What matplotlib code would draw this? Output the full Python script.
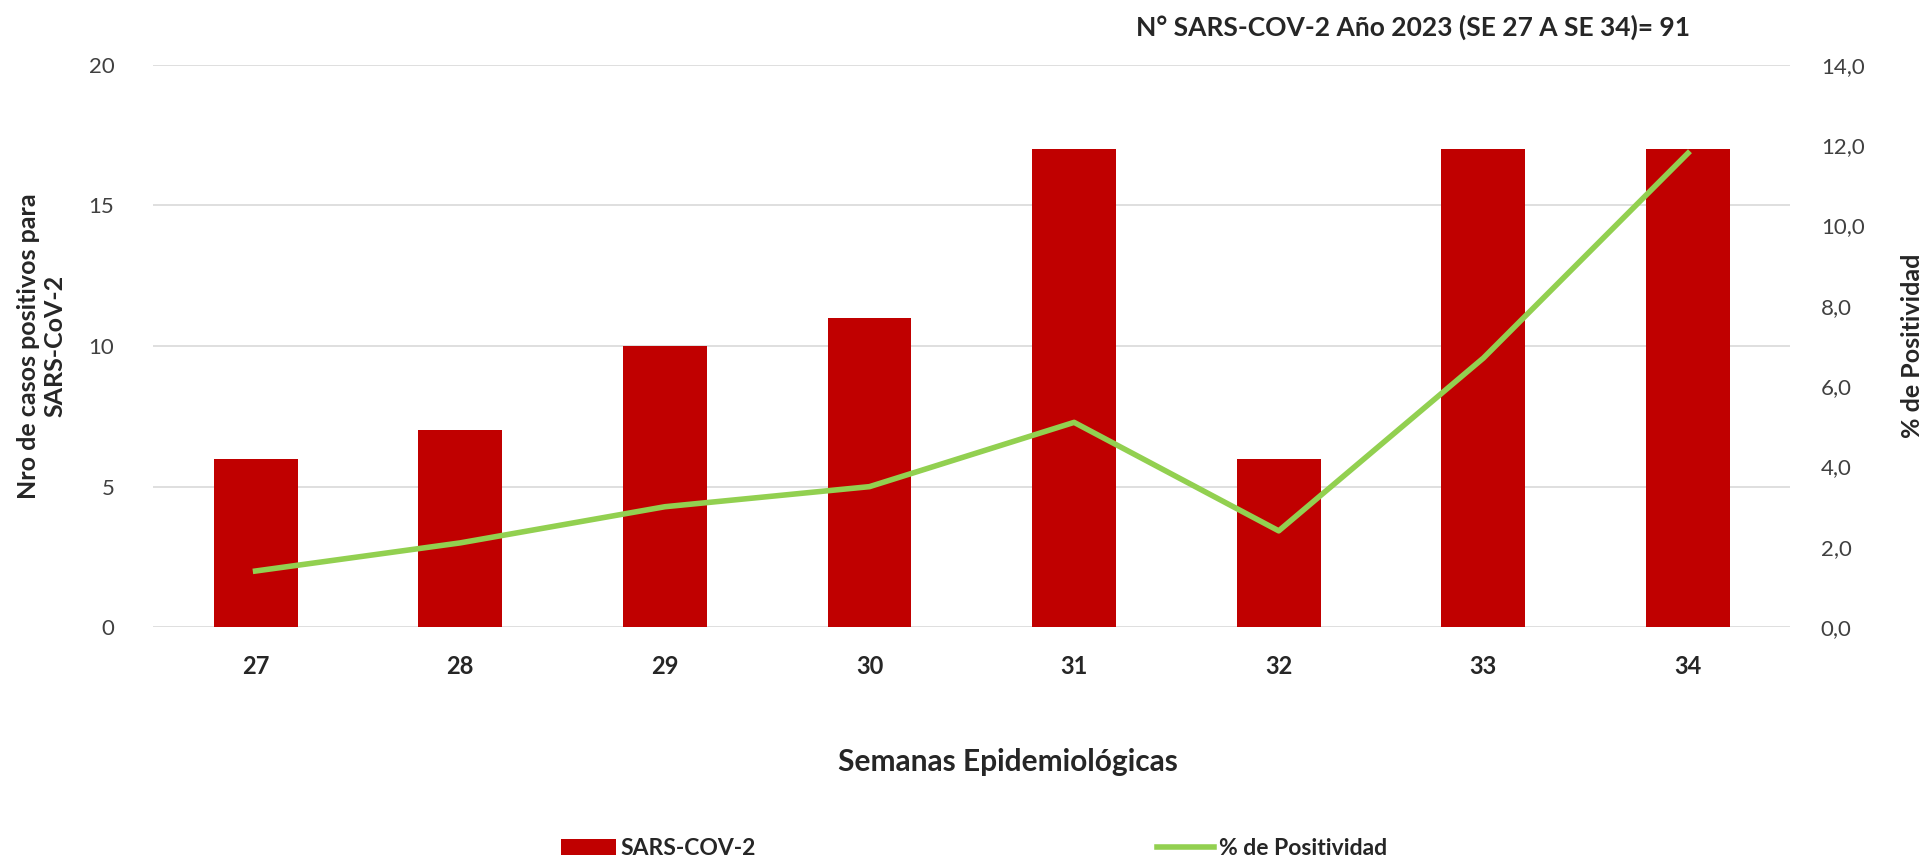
import numpy as np
import matplotlib
matplotlib.use('Agg')
import matplotlib.pyplot as plt
from matplotlib.lines import Line2D
from matplotlib.patches import Patch

plt.rcParams['font.family'] = ['Lato', 'DejaVu Sans']

# ── Data ──────────────────────────────────────────────────────────────────────
semanas = ['27', '28', '29', '30', '31', '32', '33', '34']
casos = [6, 7, 10, 11, 17, 6, 17, 17]
positividad = [1.4, 2.1, 3.0, 3.5, 5.1, 2.4, 6.7, 11.8]

bar_color = '#C00000'
line_color = '#92D050'
text_color = '#262626'
tick_color = '#404040'

fig = plt.figure(figsize=(19.23, 8.64), dpi=100)
ax = fig.add_axes([0.0797, 0.274, 0.8513, 0.651])
ax2 = ax.twinx()

x = np.arange(len(semanas))
ax.bar(x, casos, width=0.41, color=bar_color, zorder=2)
ax2.plot(x, positividad, color=line_color, linewidth=4, zorder=3,
         solid_joinstyle='round')

ax.set_xlim(-0.5, len(semanas) - 0.5)
ax.set_ylim(0, 20)
ax.set_yticks([0, 5, 10, 15, 20])
ax2.set_ylim(0, 14)
ax2.set_yticks(np.arange(0, 15, 2))
ax2.set_yticklabels([f'{v:.1f}'.replace('.', ',') for v in np.arange(0, 15, 2)])

ax.set_xticks(x)
ax.set_xticklabels(semanas, fontsize=17, fontweight='bold', color=text_color)
ax.yaxis.grid(True, color='#D9D9D9', linewidth=1.2, zorder=0)
ax.set_axisbelow(True)

for a in (ax, ax2):
    for s in a.spines.values():
        s.set_visible(False)
    a.tick_params(length=0)
ax.tick_params(axis='y', labelsize=16, labelcolor=tick_color, pad=28)
ax.tick_params(axis='x', pad=20)
ax2.tick_params(axis='y', labelsize=16, labelcolor=tick_color, pad=22)

ax.set_ylabel('Nro de casos positivos para\nSARS-CoV-2', fontsize=18,
              fontweight='bold', color=text_color, labelpad=16)
ax2.set_ylabel('% de Positividad', fontsize=18, fontweight='bold',
               color=text_color, labelpad=26)
ax.set_xlabel('Semanas Epidemiológicas', fontsize=21.5, fontweight='bold',
              color=text_color, labelpad=50)
ax.xaxis.set_label_coords(0.522, -0.215)

fig.text(0.735, 0.968, 'N° SARS-COV-2 Año 2023 (SE 27 A SE 34)= 91',
         fontsize=19, fontweight='bold', color=text_color,
         ha='center', va='center')

leg_props = {'weight': 'bold', 'size': 16.5}
h1 = [Patch(facecolor=bar_color, label='SARS-COV-2')]
h2 = [Line2D([0], [0], color=line_color, linewidth=4, label='% de Positividad')]
leg1 = fig.legend(handles=h1, loc='center left', bbox_to_anchor=(0.281, 0.018),
                  frameon=False, handlelength=2.4, handletextpad=0.2,
                  prop=leg_props)
leg2 = fig.legend(handles=h2, loc='center left', bbox_to_anchor=(0.591, 0.018),
                  frameon=False, handlelength=2.5, handletextpad=0.2,
                  prop=leg_props)
for leg in (leg1, leg2):
    for t in leg.get_texts():
        t.set_color(text_color)

fig.savefig('out.png', dpi=100)
